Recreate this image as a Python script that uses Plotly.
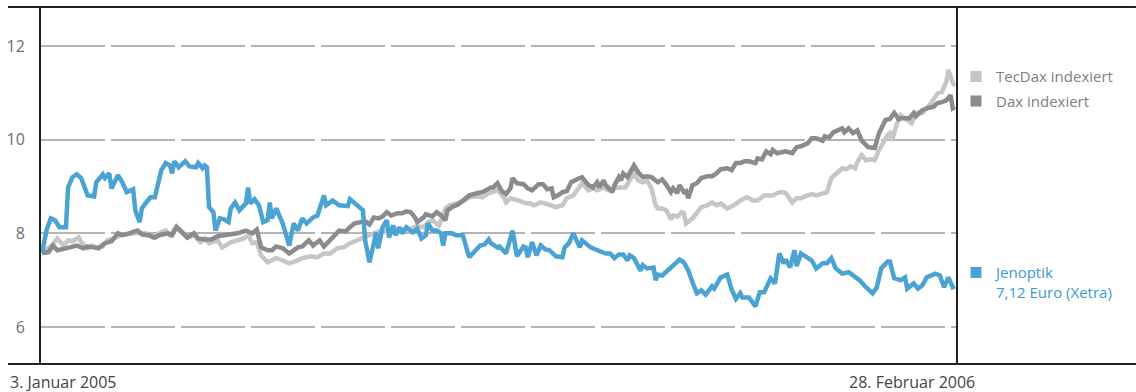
import pandas as pd
import plotly.graph_objects as go

BASE_DATE = "2005-01-03"
END_DATE = "2006-02-28"

# Jenoptik share price (EUR), days after 3 Jan 2005
jen_days = [0, 2, 4, 6, 8, 11, 12, 14, 16, 18, 21, 24, 25, 28, 29, 31, 32, 35, 37, 39, 42, 43, 45, 46, 48, 50,
            52, 53, 55, 57, 59, 60, 61, 63, 65, 66, 68, 71, 72, 74, 75, 76, 77, 79, 80, 82, 84, 86, 87, 89, 91,
            94, 95, 96, 98, 100, 102, 104, 105, 106, 108, 111, 114, 116, 118, 120, 122, 125, 127, 130, 131, 134,
            137, 141, 142, 145, 148, 149, 151, 153, 154, 155, 157, 159, 160, 162, 163, 165, 166, 168, 171, 173,
            175, 177, 178, 180, 182, 184, 185, 186, 189, 191, 194, 197, 200, 202, 204, 206, 207, 210, 211, 212,
            214, 217, 219, 222, 223, 224, 226, 228, 230, 232, 234, 237, 240, 241, 243, 245, 247, 248, 249, 253,
            256, 260, 262, 264, 266, 268, 270, 271, 273, 276, 277, 279, 282, 283, 284, 286, 290, 292, 294, 296,
            298, 300, 302, 304, 306, 309, 310, 313, 316, 318, 320, 322, 323, 326, 329, 331, 333, 336, 338, 340,
            342, 343, 345, 347, 348, 350, 353, 355, 357, 360, 362, 364, 366, 369, 372, 375, 377, 380, 383, 385,
            387, 390, 391, 393, 396, 398, 399, 402, 404, 406, 408, 412, 414, 416, 418, 420, 421]
jen_vals = [7.58, 8.06, 8.32, 8.28, 8.13, 8.13, 8.98, 9.2, 9.26, 9.18, 8.81, 8.79, 9.09, 9.26, 9.18, 9.28, 8.96,
            9.24, 9.09, 8.88, 8.94, 8.49, 8.24, 8.53, 8.66, 8.77, 8.77, 8.96, 9.35, 9.5, 9.45, 9.28, 9.54, 9.41,
            9.48, 9.54, 9.43, 9.41, 9.5, 9.39, 9.45, 9.41, 8.56, 8.45, 8.06, 8.32, 8.3, 8.24, 8.53, 8.66, 8.49,
            8.64, 8.98, 8.64, 8.73, 8.6, 8.24, 8.28, 8.66, 8.32, 8.53, 8.21, 7.74, 8.21, 8.06, 8.32, 8.21, 8.34,
            8.38, 8.81, 8.6, 8.7, 8.6, 8.58, 8.73, 8.6, 8.49, 7.85, 7.38, 7.79, 8.02, 7.68, 8.13, 8.28, 7.91,
            8.17, 7.96, 8.13, 8.0, 8.13, 8.02, 8.1, 7.89, 7.96, 8.21, 8.06, 8.06, 8.0, 7.74, 8.0, 8.0, 7.96,
            7.96, 7.49, 7.64, 7.74, 7.76, 7.87, 7.79, 7.7, 7.72, 7.68, 7.57, 8.06, 7.51, 7.72, 7.7, 7.49, 7.81,
            7.53, 7.74, 7.66, 7.64, 7.51, 7.49, 7.7, 7.79, 8.0, 7.81, 7.7, 7.85, 7.7, 7.64, 7.57, 7.57, 7.47,
            7.55, 7.55, 7.42, 7.53, 7.47, 7.2, 7.32, 7.25, 7.27, 7.0, 7.12, 7.1, 7.27, 7.36, 7.44, 7.38, 7.21,
            6.95, 6.72, 6.78, 6.69, 6.87, 6.82, 7.06, 7.12, 6.8, 6.6, 6.72, 6.63, 6.63, 6.44, 6.74, 6.74, 7.04,
            6.93, 7.57, 7.36, 7.44, 7.27, 7.64, 7.3, 7.57, 7.47, 7.42, 7.25, 7.36, 7.36, 7.47, 7.25, 7.14, 7.17,
            7.08, 7.0, 6.85, 6.72, 6.85, 7.25, 7.4, 7.4, 7.04, 7.0, 7.06, 6.82, 6.93, 6.82, 6.89, 7.06, 7.14,
            7.1, 6.85, 7.06, 6.85, 6.87]

# Dax, indexed to Jenoptik
dax_days = [0, 3, 5, 7, 11, 14, 16, 19, 21, 24, 26, 29, 32, 35, 37, 40, 44, 46, 49, 52, 54, 58, 60, 62, 65, 67,
            70, 72, 75, 78, 81, 84, 88, 90, 94, 97, 99, 101, 104, 106, 108, 111, 114, 118, 120, 123, 125, 128,
            130, 133, 135, 137, 140, 142, 144, 147, 149, 151, 153, 155, 157, 159, 161, 164, 166, 168, 170, 172,
            173, 176, 177, 180, 182, 184, 186, 187, 189, 192, 194, 197, 201, 203, 207, 208, 210, 212, 214, 216,
            217, 219, 222, 224, 226, 229, 231, 233, 235, 236, 238, 240, 242, 244, 247, 249, 252, 254, 256, 257,
            259, 260, 263, 264, 266, 267, 268, 270, 272, 273, 275, 277, 279, 281, 284, 286, 288, 290, 291, 293,
            294, 296, 297, 298, 300, 302, 304, 307, 309, 311, 313, 316, 318, 320, 322, 324, 326, 329, 330, 332,
            334, 336, 337, 339, 341, 343, 346, 348, 350, 353, 355, 357, 360, 361, 363, 365, 367, 369, 370, 372,
            374, 376, 378, 381, 384, 386, 389, 391, 393, 395, 397, 400, 402, 403, 406, 408, 411, 413, 415, 417,
            419, 420, 421]
dax_vals = [7.58, 7.6, 7.74, 7.64, 7.68, 7.72, 7.74, 7.68, 7.72, 7.7, 7.68, 7.79, 7.83, 8.0, 7.96, 8.0, 8.06,
            7.98, 7.96, 7.91, 7.96, 8.0, 7.96, 8.13, 8.0, 7.91, 8.0, 7.89, 7.87, 7.87, 7.94, 7.96, 7.98, 8.0,
            8.06, 8.0, 8.08, 7.7, 7.64, 7.64, 7.72, 7.68, 7.57, 7.7, 7.72, 7.85, 7.74, 7.85, 7.72, 7.85, 7.96,
            8.06, 8.04, 8.13, 8.21, 8.24, 8.26, 8.19, 8.34, 8.32, 8.36, 8.45, 8.38, 8.43, 8.43, 8.47, 8.45, 8.34,
            8.24, 8.34, 8.41, 8.36, 8.45, 8.38, 8.28, 8.49, 8.56, 8.62, 8.7, 8.81, 8.86, 8.88, 8.98, 8.98, 9.07,
            8.9, 8.84, 8.96, 9.18, 9.07, 9.05, 8.96, 8.92, 9.05, 9.05, 8.94, 8.96, 8.77, 8.81, 8.88, 8.9, 9.09,
            9.16, 9.2, 9.03, 8.98, 9.09, 8.98, 9.13, 9.03, 8.88, 9.03, 9.2, 9.13, 9.28, 9.2, 9.37, 9.45, 9.3,
            9.2, 9.22, 9.2, 9.09, 9.15, 9.03, 8.88, 8.96, 8.86, 9.03, 8.88, 8.9, 8.75, 9.03, 9.07, 9.18, 9.22,
            9.22, 9.28, 9.37, 9.39, 9.35, 9.5, 9.5, 9.54, 9.54, 9.5, 9.6, 9.58, 9.75, 9.69, 9.78, 9.71, 9.73,
            9.75, 9.71, 9.84, 9.86, 9.92, 10.03, 10.03, 9.98, 10.07, 10.05, 10.16, 10.2, 10.24, 10.16, 10.24,
            10.14, 10.2, 9.98, 9.84, 9.82, 10.14, 10.42, 10.44, 10.57, 10.44, 10.46, 10.46, 10.57, 10.5, 10.63,
            10.67, 10.7, 10.78, 10.8, 10.84, 10.95, 10.67, 10.7]

# TecDax, indexed to Jenoptik
tec_days = [0, 3, 5, 7, 10, 12, 14, 17, 18, 21, 23, 25, 28, 30, 33, 36, 39, 42, 45, 48, 51, 54, 57, 59, 62, 65,
            67, 70, 73, 75, 77, 81, 83, 87, 90, 93, 95, 97, 99, 101, 104, 106, 108, 111, 114, 118, 120, 124, 127,
            130, 133, 136, 139, 142, 145, 148, 151, 154, 157, 160, 164, 166, 170, 173, 176, 178, 180, 183, 184,
            186, 188, 191, 194, 197, 201, 203, 206, 208, 210, 213, 214, 216, 218, 220, 223, 225, 227, 230, 232,
            234, 237, 240, 242, 245, 247, 249, 252, 254, 256, 259, 261, 263, 266, 269, 271, 273, 275, 277, 279,
            281, 283, 284, 286, 288, 290, 291, 293, 295, 296, 297, 300, 302, 304, 307, 309, 311, 313, 316, 319,
            322, 325, 328, 330, 333, 337, 339, 341, 343, 346, 348, 350, 353, 355, 357, 360, 362, 364, 367, 369,
            371, 373, 375, 376, 378, 380, 382, 384, 386, 388, 390, 391, 392, 394, 396, 399, 401, 403, 406, 408,
            410, 413, 415, 417, 418, 420, 421]
tec_vals = [7.58, 7.7, 7.76, 7.89, 7.74, 7.85, 7.83, 7.91, 7.81, 7.68, 7.74, 7.7, 7.72, 7.85, 7.89, 7.96, 7.98,
            8.02, 8.02, 8.0, 7.91, 8.0, 8.06, 7.96, 8.15, 8.02, 7.91, 7.96, 7.81, 7.89, 7.79, 7.85, 7.7, 7.81,
            7.85, 7.89, 7.96, 7.79, 7.81, 7.53, 7.38, 7.42, 7.47, 7.42, 7.36, 7.42, 7.47, 7.51, 7.49, 7.57, 7.57,
            7.68, 7.7, 7.79, 7.85, 7.91, 7.96, 8.02, 8.06, 8.04, 8.1, 8.06, 8.1, 8.15, 8.13, 8.24, 8.28, 8.17,
            8.28, 8.53, 8.6, 8.64, 8.68, 8.77, 8.79, 8.77, 8.86, 8.88, 8.92, 8.77, 8.66, 8.75, 8.73, 8.7, 8.64,
            8.64, 8.6, 8.66, 8.64, 8.6, 8.56, 8.6, 8.75, 8.81, 8.96, 9.07, 8.92, 8.96, 8.92, 8.98, 8.92, 8.96,
            8.98, 8.98, 9.13, 9.28, 9.13, 9.09, 9.13, 8.96, 8.6, 8.53, 8.53, 8.49, 8.3, 8.38, 8.36, 8.45, 8.43,
            8.21, 8.32, 8.45, 8.56, 8.6, 8.66, 8.6, 8.64, 8.53, 8.6, 8.7, 8.77, 8.7, 8.7, 8.81, 8.81, 8.86, 8.88,
            8.86, 8.66, 8.75, 8.75, 8.81, 8.84, 8.81, 8.84, 8.88, 9.18, 9.3, 9.39, 9.37, 9.43, 9.39, 9.52, 9.67,
            9.56, 9.58, 9.56, 9.78, 9.95, 10.1, 10.14, 9.98, 10.31, 10.52, 10.42, 10.35, 10.57, 10.57, 10.67,
            10.78, 10.99, 11.02, 11.23, 11.49, 11.21, 11.15]

y_ticks = [6, 8, 10, 12]
x_labels = ["3. Januar 2005", "28. Februar 2006"]
series_names = ["TecDax indexiert", "Dax indexiert", "Jenoptik<br>7,12 Euro (Xetra)"]

BLUE = "#4aa3d3"
LIGHT = "#c6c6c6"
DARK = "#8b8b8f"
FONT = "Open Sans"
LW = 4.5

base = pd.Timestamp(BASE_DATE)


def to_dates(days):
    return base + pd.to_timedelta(days, unit="D")


fig = go.Figure()
fig.add_trace(go.Scatter(x=to_dates(tec_days), y=tec_vals, mode="lines",
                         line=dict(color=LIGHT, width=LW), showlegend=False, name=series_names[0]))
fig.add_trace(go.Scatter(x=to_dates(dax_days), y=dax_vals, mode="lines",
                         line=dict(color=DARK, width=LW), showlegend=False, name=series_names[1]))
fig.add_trace(go.Scatter(x=to_dates(jen_days), y=jen_vals, mode="lines",
                         line=dict(color=BLUE, width=LW), showlegend=False, name="Jenoptik"))

# legend entries (square keys)
for name, col, grp, leg in [(series_names[0], LIGHT, "a", "legend"),
                            (series_names[1], DARK, "b", "legend"),
                            (series_names[2], BLUE, "c", "legend2")]:
    fig.add_trace(go.Scatter(x=[None], y=[None], mode="markers", name=name, legendgroup=grp,
                             marker=dict(symbol="square", size=11, color=col), legend=leg))

x0 = base - pd.Timedelta(hours=12)
x1 = pd.Timestamp(END_DATE) + pd.Timedelta(hours=12)

fig.update_layout(
    width=1136, height=392,
    margin=dict(l=41, r=180, t=7, b=28),
    paper_bgcolor="white", plot_bgcolor="white",
    font=dict(family=FONT, color="#444444"),
    xaxis=dict(range=[x0, x1], showgrid=False, showticklabels=False, zeroline=False,
               showline=False, ticks=""),
    yaxis=dict(range=[5.21, 12.833], tickvals=y_ticks, ticktext=[str(v) for v in y_ticks],
               showgrid=True, gridcolor="#b4b4b4", gridwidth=2, griddash="64px,6px",
               zeroline=False, showline=True, linecolor="#222222", linewidth=2, mirror=True,
               ticks="", ticklabelstandoff=11,
               tickfont=dict(family=FONT, size=16, color="#6e6e6e")),
    legend=dict(x=1.0, xanchor="left", y=0.851, yanchor="top", traceorder="grouped",
                tracegroupgap=2, font=dict(family=FONT, size=15, color="#808080"),
                bgcolor="rgba(0,0,0,0)"),
    legend2=dict(x=1.0, xanchor="left", y=0.302, yanchor="top", valign="top",
                 font=dict(family=FONT, size=15, color="#3a9ad0"),
                 bgcolor="rgba(0,0,0,0)"),
    shapes=[
        dict(type="line", xref="paper", yref="paper", x0=-0.0361, x1=1.1967, y0=1, y1=1,
             line=dict(color="#222222", width=2)),
        dict(type="line", xref="paper", yref="paper", x0=-0.0361, x1=1.1967, y0=0, y1=0,
             line=dict(color="#222222", width=2)),
    ],
    annotations=[
        dict(x=base, y=0, xref="x", yref="paper", text=x_labels[0], showarrow=False,
             xanchor="left", yanchor="top", xshift=-34, yshift=-5,
             font=dict(family=FONT, size=16, color="#444444")),
        dict(x=pd.Timestamp(END_DATE), y=0, xref="x", yref="paper", text=x_labels[1], showarrow=False,
             xanchor="right", yanchor="top", xshift=22, yshift=-5,
             font=dict(family=FONT, size=16, color="#444444")),
    ],
)

fig.write_html("out.html")
